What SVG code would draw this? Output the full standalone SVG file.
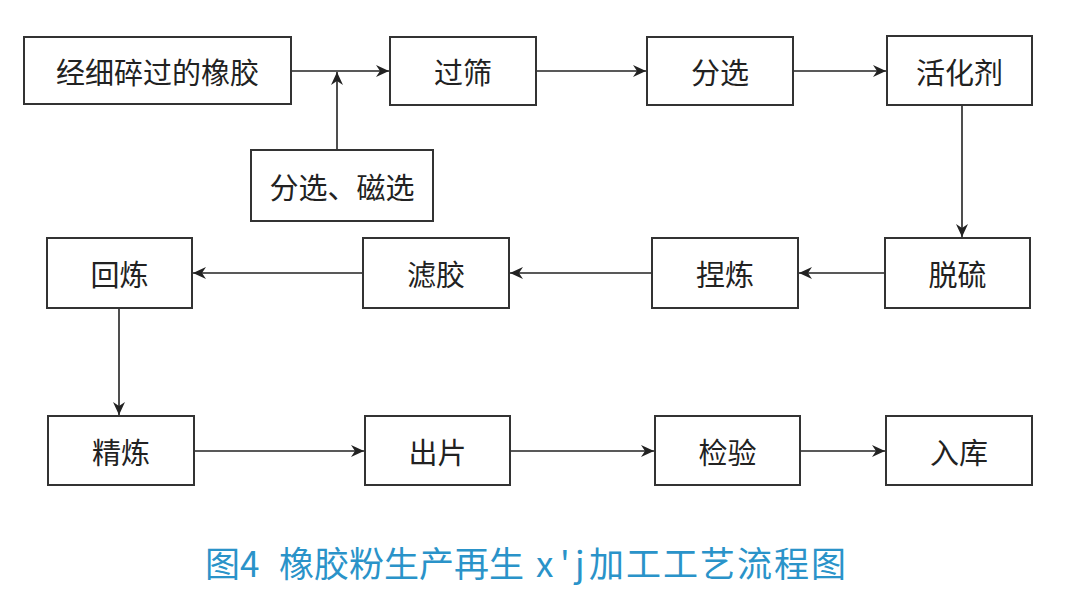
<svg xmlns="http://www.w3.org/2000/svg" width="1080" height="591" viewBox="0 0 1080 591">
<style>
.box{fill:#fff;stroke:#333;stroke-width:2}
.lbl{font-family:"Noto Sans CJK SC","Liberation Serif",serif;font-size:29px;fill:#222;text-anchor:middle;dominant-baseline:central}
.con{fill:none;stroke:#222;stroke-width:1.6;marker-end:url(#arr)}
.cap{font-family:"Noto Sans CJK SC","Liberation Sans",sans-serif;font-size:35px;fill:#2a93c9}
</style>
<defs>
<marker id="arr" viewBox="0 0 14 14" refX="13" refY="7" markerWidth="14" markerHeight="14" markerUnits="userSpaceOnUse" orient="auto">
<path d="M0,1 L13,7 L0,13 L4,7 z" fill="#222"/>
</marker>
</defs>
<rect width="1080" height="591" fill="#fff"/>
<g id="connectors">
<path class="con" d="M291,71 H389"/>
<path class="con" d="M337,150 V72"/>
<path class="con" d="M536,71 H646"/>
<path class="con" d="M793,71 H886"/>
<path class="con" d="M962,105 V237"/>
<path class="con" d="M885,273 H799"/>
<path class="con" d="M652,273 H510"/>
<path class="con" d="M363,273 H193"/>
<path class="con" d="M119,308 V415"/>
<path class="con" d="M194,451 H364"/>
<path class="con" d="M510,451 H654"/>
<path class="con" d="M800,451 H885"/>
</g>
<g id="n1"><rect class="box" x="24" y="37" width="267" height="67"/><text class="lbl" x="157.5" y="71">经细碎过的橡胶</text></g>
<g id="n2"><rect class="box" x="251" y="150" width="182" height="71"/><text class="lbl" x="342" y="186">分选、磁选</text></g>
<g id="n3"><rect class="box" x="390" y="37" width="146" height="68"/><text class="lbl" x="463" y="71">过筛</text></g>
<g id="n4"><rect class="box" x="647" y="37" width="146" height="68"/><text class="lbl" x="720" y="71">分选</text></g>
<g id="n5"><rect class="box" x="887" y="36" width="145" height="69"/><text class="lbl" x="959.5" y="71">活化剂</text></g>
<g id="n6"><rect class="box" x="885" y="238" width="145" height="70"/><text class="lbl" x="957.5" y="273">脱硫</text></g>
<g id="n7"><rect class="box" x="652" y="238" width="146" height="70"/><text class="lbl" x="725" y="273">捏炼</text></g>
<g id="n8"><rect class="box" x="363" y="238" width="146" height="70"/><text class="lbl" x="436" y="273">滤胶</text></g>
<g id="n9"><rect class="box" x="47" y="238" width="145" height="70"/><text class="lbl" x="119.5" y="273">回炼</text></g>
<g id="n10"><rect class="box" x="48" y="416" width="146" height="69"/><text class="lbl" x="121" y="451">精炼</text></g>
<g id="n11"><rect class="box" x="365" y="416" width="145" height="69"/><text class="lbl" x="437.5" y="451">出片</text></g>
<g id="n12"><rect class="box" x="655" y="416" width="145" height="69"/><text class="lbl" x="727.5" y="451">检验</text></g>
<g id="n13"><rect class="box" x="886" y="416" width="146" height="69"/><text class="lbl" x="959" y="451">入库</text></g>
<text class="cap" y="577"><tspan x="205">图4</tspan><tspan x="279">橡胶粉生产再生</tspan><tspan x="536">x</tspan><tspan x="560">'</tspan><tspan x="575">j</tspan><tspan x="589" letter-spacing="2">加工工艺流程图</tspan></text>
</svg>
